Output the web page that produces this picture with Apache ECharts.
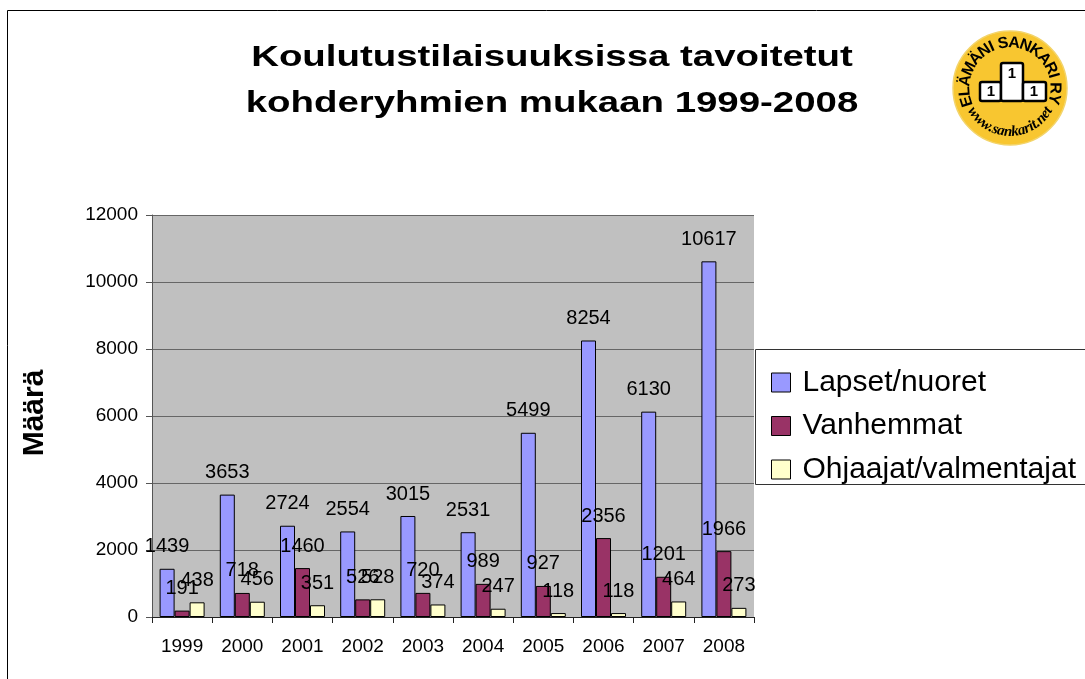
<!DOCTYPE html>
<html>
<head>
<meta charset="utf-8">
<style>
html,body{margin:0;padding:0;background:#fff;}
#chart{width:1085px;height:679px;}
</style>
<script src="https://cdn.jsdelivr.net/npm/echarts@6/dist/echarts.min.js"></script>
</head>
<body>
<div id="chart"></div>
<script>
// ---- data ----
const years = ['1999','2000','2001','2002','2003','2004','2005','2006','2007','2008'];
const lapset = [1439, 3653, 2724, 2554, 3015, 2531, 5499, 8254, 6130, 10617];
const vanhemmat = [191, 718, 1460, 526, 720, 989, 927, 2356, 1201, 1966];
const ohjaajat = [438, 456, 351, 528, 374, 247, 118, 118, 464, 273];
const seriesNames = ['Lapset/nuoret', 'Vanhemmat', 'Ohjaajat/valmentajat'];
const titleLines = ['Koulutustilaisuuksissa tavoitetut', 'kohderyhmien mukaan 1999-2008'];
const yAxisName = 'Määrä';
const logoTop = 'ELÄMÄNI SANKARI RY';
const logoBottom = 'www.sankarit.net';

// ---- styling / layout ----
const FONT = '"Liberation Sans", Arial, Helvetica, sans-serif';
const colors = ['#9999FF', '#993366', '#FFFFCC'];

const chart = echarts.init(document.getElementById('chart'));

// logo pieces
const LX = 1010, LY = 88;
const topAngles = [197.2, 184.2, 170.6, 154.8, 139, 124.3, 114.1, null, 98.9, 84.7, 70, 55.3, 40.6, 26, 15.8, null, -0.1, -14.2];
const botAngles = [214, 225.6, 237.1, 245, 250.6, 258.3, 267.4, 276.6, 285.2, 292.9, 298.7, 303.5, 308, 315.1, 323.7, 330];
const logoEls = [];
logoEls.push({type:'circle', shape:{cx:LX, cy:LY, r:57}, style:{fill:'#F8C630', stroke:'#F3D46A', lineWidth:1.5}, z:10});
for (let i = 0; i < logoTop.length; i++) {
  const a = topAngles[i];
  if (a === null || logoTop[i] === ' ') continue;
  const rad = a * Math.PI / 180, r = 45;
  logoEls.push({type:'text', x: LX + r*Math.cos(rad), y: LY - r*Math.sin(rad), rotation: (a-90)*Math.PI/180, z:11,
    style:{text: logoTop[i], font:'bold 16px ' + FONT, fill:'#000', align:'center', verticalAlign:'middle', textAlign:'center', textVerticalAlign:'middle'}});
}
for (let i = 0; i < logoBottom.length; i++) {
  const a = botAngles[i];
  const rad = a * Math.PI / 180, r = 44;
  logoEls.push({type:'text', x: LX + r*Math.cos(rad), y: LY - r*Math.sin(rad), rotation: (a-270)*Math.PI/180, z:11,
    style:{text: logoBottom[i], font:'italic bold 15px "Liberation Serif", "DejaVu Serif", serif', fill:'#000', align:'center', verticalAlign:'middle', textAlign:'center', textVerticalAlign:'middle'}});
}
const blocks = [[980,82,21,19],[1001,63,22,38],[1023,82,23,19]];
blocks.forEach(b => {
  logoEls.push({type:'rect', shape:{x:b[0], y:b[1], width:b[2], height:b[3], r:2}, style:{fill:'#fff', stroke:'#000', lineWidth:2.5}, z:11});
});
[[991,92],[1012,74],[1034,92]].forEach(p => {
  logoEls.push({type:'text', x:p[0], y:p[1], z:12, style:{text:'1', font:'bold 15px ' + FONT, fill:'#000', align:'center', verticalAlign:'middle', textAlign:'center', textVerticalAlign:'middle'}});
});

const option = {
  backgroundColor: '#fff',
  animation: false,
  textStyle: {fontFamily: FONT},
  grid: {left:152, top:215, width:602, height:402, show:true, backgroundColor:'#C0C0C0', borderWidth:0, containLabel:false},
  legend: {
    data: seriesNames,
    orient: 'vertical',
    left: 766, top: 362.5,
    itemWidth: 19, itemHeight: 19, itemGap: 13.5,
    icon: 'rect',
    itemStyle: {borderColor:'#000', borderWidth:1},
    textStyle: {fontSize:30, color:'#000', fontFamily:FONT, lineHeight:30, padding:[0,0,0,7]},
    selectedMode: false,
    z: 20
  },
  xAxis: {
    type: 'category',
    data: years,
    axisLine: {show:true, lineStyle:{color:'#222', width:1}},
    axisTick: {show:true, length:6, alignWithLabel:false, interval:0, lineStyle:{color:'#222'}},
    axisLabel: {fontSize:19, color:'#000', margin:20, fontFamily:FONT, interval:0},
    splitLine: {show:false}
  },
  yAxis: {
    type: 'value',
    min: 0, max: 12000, interval: 2000,
    axisLine: {show:true, lineStyle:{color:'#555', width:1}},
    axisTick: {show:true, length:6, lineStyle:{color:'#555'}},
    axisLabel: {fontSize:19, color:'#000', margin:14, fontFamily:FONT, formatter: v => String(v)},
    splitLine: {show:true, lineStyle:{color:'#666', width:1}}
  },
  series: [lapset, vanhemmat, ohjaajat].map((d, i) => ({
    name: seriesNames[i],
    type: 'bar',
    data: d,
    barWidth: 15,
    barGap: '0%',
    itemStyle: {color: colors[i], borderColor:'#000', borderWidth:1},
    label: {show:true, position:'top', distance:12, fontSize:20, color:'#000', fontFamily:FONT},
    labelLayout: {hideOverlap:false}
  })),
  graphic: [
    {type:'rect', shape:{x:7.5, y:10.5, width:1200, height:800}, style:{fill:'none', stroke:'#000', lineWidth:1}, z:0, silent:true},
    {type:'rect', shape:{x:755.5, y:349.5, width:400, height:135}, style:{fill:'#fff', stroke:'#333', lineWidth:1}, z:5, silent:true},
    {type:'text', x:552, y:58, scaleX:1.28, z:10,
      style:{text:titleLines[0], font:'bold 30px ' + FONT, fill:'#000', align:'center', verticalAlign:'middle', textAlign:'center', textVerticalAlign:'middle'}},
    {type:'text', x:552, y:104, scaleX:1.28, z:10,
      style:{text:titleLines[1], font:'bold 30px ' + FONT, fill:'#000', align:'center', verticalAlign:'middle', textAlign:'center', textVerticalAlign:'middle'}},
    {type:'text', x:35, y:413, rotation:Math.PI/2, z:10,
      style:{text:yAxisName, font:'bold 30px ' + FONT, fill:'#000', align:'center', verticalAlign:'middle', textAlign:'center', textVerticalAlign:'middle'}}
  ].concat(logoEls)
};
chart.setOption(option);
</script>
</body>
</html>
